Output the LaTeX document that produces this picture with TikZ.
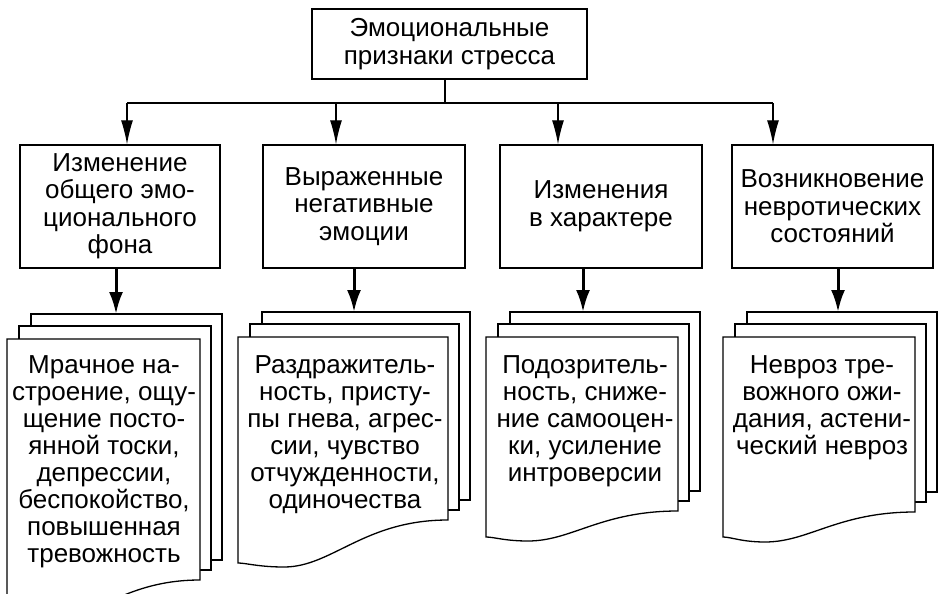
\documentclass[tikz,border=0pt]{standalone}
\usepackage{fontspec}
\setmainfont{Liberation Sans}
\usetikzlibrary{arrows.meta}
\begin{document}
\begin{tikzpicture}[x=1pt,y=-1pt,
  box/.style={draw, line width=1.3pt, fill=white, align=center, inner sep=0pt, font=\fontsize{26}{27.5}\selectfont},
  page/.style={draw, line width=1.3pt, fill=white},
  thinarrow/.style={line width=1.2pt, -{Latex[length=24pt,width=12pt]}},
  thickarrow/.style={line width=3pt, -{Latex[length=22pt,width=14pt]}},
  txt/.style={align=center, inner sep=0pt, anchor=north, font=\fontsize{26}{27}\selectfont}]
\useasboundingbox (0,0) rectangle (945,594);
\clip (0,0) rectangle (945,594);
\fill[white] (0,0) rectangle (945,594);

% top box
\node[box, minimum width=275pt, minimum height=70pt] (top) at (449.5,44) {Эмоциональные\\признаки стресса};

% middle boxes
\node[box, minimum width=200pt, minimum height=123pt] (b1) at (120,206.5) {Изменение\\общего эмо-\\ционального\\фона};
\node[box, minimum width=202pt, minimum height=123pt] (b2) at (364,206.5) {Выраженные\\негативные\\эмоции};
\node[box, minimum width=202pt, minimum height=123pt] (b3) at (601,206.5) {Изменения\\в характере};
\node[box, minimum width=201pt, minimum height=123pt] (b4) at (832.5,206.5) {Возникновение\\невротических\\состояний};

% bus
\coordinate (bus) at (445,103);
\coordinate (a1) at (127,103);
\coordinate (a2) at (336,103);
\coordinate (a3) at (558,103);
\coordinate (a4) at (773,103);
\draw[line width=1.2pt] (bus |- top.south) -- (bus);
\draw[line width=1.2pt] (a1) -- (a4);
\draw[thinarrow] (a1) -- (a1 |- b1.north);
\draw[thinarrow] (a2) -- (a2 |- b2.north);
\draw[thinarrow] (a3) -- (a3 |- b3.north);
\draw[thinarrow] (a4) -- (a4 |- b4.north);

% document stacks
% doc 1
\filldraw[page] (31,314) rectangle (222,560);
\filldraw[page] (19,326) rectangle (211,570);
\filldraw[page] (7,339) -- (200,339) -- (200,580) .. controls (123,580) and (94,620) .. (49,620) .. controls (26,620) and (15,616) .. (7,616) -- cycle;
% doc 2
\filldraw[page] (262,312) rectangle (470,500);
\filldraw[page] (250,324) rectangle (459,510);
\filldraw[page] (238,337) -- (448,337) -- (448,520) .. controls (364,520) and (332,567) .. (284,567) .. controls (259,567) and (246,563) .. (238,563) -- cycle;
% doc 3
\filldraw[page] (510,312) rectangle (700,491);
\filldraw[page] (498,324) rectangle (689,501);
\filldraw[page] (486,337) -- (678,337) -- (678,511) .. controls (601,511) and (572,541) .. (528,541) .. controls (505,541) and (494,537) .. (486,537) -- cycle;
% doc 4
\filldraw[page] (747,312) rectangle (937,492);
\filldraw[page] (735,324) rectangle (926,502);
\filldraw[page] (723,337) -- (915,337) -- (915,512) .. controls (838,512) and (809,542) .. (765,542) .. controls (742,542) and (731,537) .. (723,537) -- cycle;

% texts
\node[txt] (t1) at (104,355) {Мрачное на-\\строение, ощу-\\щение посто-\\янной тоски,\\депрессии,\\беспокойство,\\повышенная\\тревожность};
\node[txt] (t2) at (345,355) {Раздражитель-\\ность, присту-\\пы гнева, агрес-\\сии, чувство\\отчужденности,\\одиночества};
\node[txt] (t3) at (585,355) {Подозритель-\\ность, сниже-\\ние самооцен-\\ки, усиление\\интроверсии};
\node[txt] (t4) at (822,355) {Невроз тре-\\вожного ожи-\\дания, астени-\\ческий невроз};

% thick arrows
\coordinate (d1) at (116,314);
\coordinate (d2) at (354,312);
\coordinate (d3) at (583,312);
\coordinate (d4) at (838,312);
\draw[thickarrow] (b1.south -| d1) -- (d1);
\draw[thickarrow] (b2.south -| d2) -- (d2);
\draw[thickarrow] (b3.south -| d3) -- (d3);
\draw[thickarrow] (b4.south -| d4) -- (d4);
\end{tikzpicture}
\end{document}
